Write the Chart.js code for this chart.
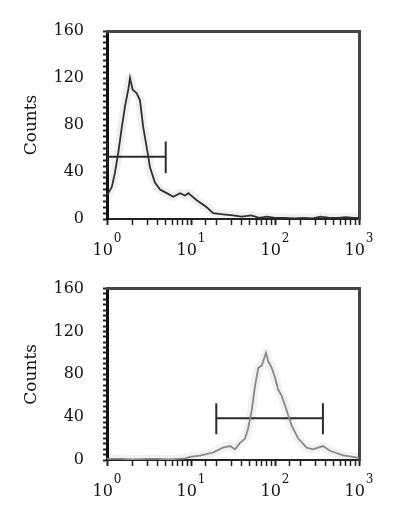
<!DOCTYPE html>
<html>
<head>
<meta charset="utf-8">
<script src="https://cdn.jsdelivr.net/npm/chart.js@4"></script>
<style>
  html, body { margin: 0; padding: 0; background: #fff; }
  .wrap { position: absolute; left: 0; width: 396px; }
</style>
</head>
<body>
<div class="wrap" style="top:0;height:260px"><canvas id="c1"></canvas></div>
<div class="wrap" style="top:260px;height:262px"><canvas id="c2"></canvas></div>
<script>
// upper histogram (fluorescence vs counts)
const topX = [1, 1.035, 1.14, 1.24, 1.36, 1.5, 1.64, 1.79, 1.88, 2.02, 2.26, 2.47, 2.7, 2.97, 3.25, 3.72, 4.28, 5.14, 6.15, 7.4, 8.49, 9.29, 11.7, 15.4, 18.3, 24, 31.6, 40, 52, 65, 80, 100, 130, 170, 220, 280, 350, 450, 560, 700, 850, 1000];
const topY = [20, 22, 27, 39, 56, 78, 96, 110, 120, 110, 107, 101, 78, 61, 44, 31, 25, 22, 19, 22, 20, 22, 16, 10, 5, 4, 3, 2, 3, 1, 2, 1, 1, 0.5, 1, 0.5, 2, 1, 1, 1.5, 1, 1];
const topGate = [1, 5];
const topGateLevel = 53;
const topGateTick = [39, 66];

// lower histogram
const botX = [1, 1.5, 2, 3, 4, 5.5, 7, 8.5, 9.73, 12.8, 18.3, 24, 29.1, 33.4, 38.3, 44, 47.7, 52.8, 57.8, 63.3, 69.5, 78.1, 83.2, 91.4, 100, 108.6, 120, 138, 158, 189, 238, 283, 372, 451, 646, 849, 1000];
const botY = [1, 1, 0.5, 1, 1, 0.5, 1, 1.5, 2.9, 4, 7, 11.5, 13, 10, 16, 20, 29, 46, 69, 86, 88, 100, 92, 86, 77, 66, 60, 46, 32, 20, 11.5, 10, 13, 8.6, 4.3, 2.9, 2];
const botGate = [20, 372];
const botGateLevel = 39;
const botGateTick = [24, 53];

const yTicks = [0, 40, 80, 120, 160];
const xTicks = [1, 10, 100, 1000];
const xExp = ['0', '1', '2', '3'];

const serif = 'DejaVu Serif';

function pts(xs, ys) {
  return xs.map((x, i) => ({ x: x, y: ys[i] }));
}

// decade labels as 10 with a raised exponent
const powerLabels = {
  id: 'powerLabels',
  afterDraw(chart) {
    const s = chart.scales.x;
    const ctx = chart.ctx;
    ctx.save();
    ctx.fillStyle = '#111';
    ctx.textBaseline = 'alphabetic';
    ctx.textAlign = 'left';
    xTicks.forEach((v, i) => {
      const px = s.getPixelForValue(v);
      ctx.font = '16px "' + serif + '"';
      const w1 = ctx.measureText('10').width;
      ctx.font = '12px "' + serif + '"';
      const w2 = ctx.measureText(xExp[i]).width;
      const left = px - (w1 + w2 + 1) / 2;
      ctx.font = '16px "' + serif + '"';
      ctx.fillText('10', left, s.top + 36);
      ctx.font = '12px "' + serif + '"';
      ctx.fillText(xExp[i], left + w1 + 1, s.top + 23);
    });
    ctx.restore();
  }
};

function makeChart(id, xs, ys, gate, level, tick, lineColor, haloColor, padTop, xHeight) {
  const gateColor = '#2b2b2b';
  return new Chart(document.getElementById(id), {
    type: 'line',
    data: {
      datasets: [
        { data: pts(xs, ys), borderColor: haloColor, borderWidth: 9, pointRadius: 0, tension: 0.2 },
        { data: pts(xs, ys), borderColor: lineColor, borderWidth: 1.8, pointRadius: 0, tension: 0 },
        { data: [{ x: gate[0], y: level }, { x: gate[1], y: level }], borderColor: gateColor, borderWidth: 2, pointRadius: 0 },
        { data: [{ x: gate[0], y: tick[0] }, { x: gate[0], y: tick[1] }], borderColor: gateColor, borderWidth: 2, pointRadius: 0 },
        { data: [{ x: gate[1], y: tick[0] }, { x: gate[1], y: tick[1] }], borderColor: gateColor, borderWidth: 2, pointRadius: 0 }
      ]
    },
    plugins: [powerLabels],
    options: {
      responsive: true,
      maintainAspectRatio: false,
      animation: false,
      layout: { padding: { top: padTop, right: 37, left: 0, bottom: 0 } },
      plugins: { legend: { display: false }, tooltip: { enabled: false } },
      scales: {
        x: {
          type: 'logarithmic',
          position: 'bottom',
          min: 1,
          max: 1000,
          afterFit: s => { s.height = xHeight; },
          grid: {
            drawOnChartArea: false,
            tickLength: 6,
            color: '#222',
            tickWidth: ctx => (ctx.tick && xTicks.includes(ctx.tick.value)) ? 2 : 1.5
          },
          border: { color: '#222', width: 2 },
          ticks: {
            autoSkip: false,
            maxRotation: 0,
            padding: 16,
            font: { family: serif, size: 15 },
            callback: () => ''
          }
        },
        y: {
          type: 'linear',
          min: 0,
          max: 160,
          afterFit: s => { s.width = 107; },
          grid: { drawOnChartArea: false, tickLength: 4, tickWidth: 2, color: '#222' },
          border: { color: '#111', width: 3 },
          ticks: {
            stepSize: 5,
            autoSkip: false,
            padding: 19,
            color: '#111',
            font: { family: serif, size: 16 },
            callback: v => yTicks.includes(v) ? String(v) : ''
          },
          title: {
            display: true,
            text: 'Counts',
            color: '#111',
            font: { family: serif, size: 17 },
            padding: { top: 21, bottom: 0 }
          }
        },
        x2: {
          type: 'linear',
          position: 'top',
          afterFit: s => { s.height = 0; },
          grid: { display: false },
          ticks: { display: false },
          border: { color: '#444', width: 3 }
        },
        y2: {
          type: 'linear',
          position: 'right',
          afterFit: s => { s.width = 0; },
          grid: { display: false },
          ticks: { display: false },
          border: { color: '#444', width: 3 }
        }
      }
    }
  });
}

makeChart('c1', topX, topY, topGate, topGateLevel, topGateTick, '#333', 'rgba(0,0,0,0.06)', 31, 41);
makeChart('c2', botX, botY, botGate, botGateLevel, botGateTick, '#909090', 'rgba(0,0,0,0.05)', 14, 62);
</script>
</body>
</html>
